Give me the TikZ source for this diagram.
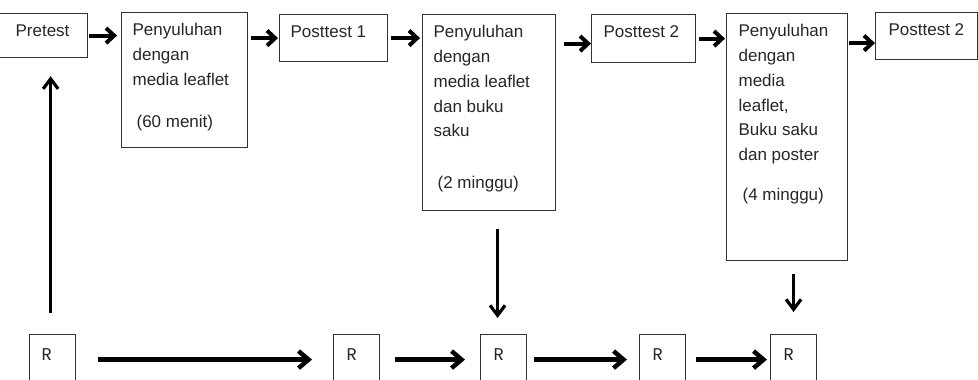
\documentclass[tikz,border=0pt]{standalone}
\usepackage{fontspec}
\setmainfont{Liberation Sans}
\newfontfamily\hurufR{Poppins}
\usetikzlibrary{arrows.meta,calc}
\newcommand{\isikotak}[4][11pt]{\parbox[t][#3][t]{#2}{\raggedright\leftskip=#1\relax #4}}

\begin{document}
\begin{tikzpicture}[x=1pt, y=-1pt,
    kotak/.style={draw=black!80, line width=1.2pt, anchor=north west, inner xsep=0pt, inner ysep=11pt, text=black!85, font=\fontsize{17}{24.7}\selectfont},
    kotakR/.style={kotak, inner ysep=14pt, font=\hurufR\fontsize{17}{20}\selectfont},
    panah/.style={line width=4pt, -{Straight Barb[length=8pt,width=15pt]}},
    panahR/.style={line width=4.5pt, -{Straight Barb[length=10pt,width=17pt]}},
    panahV/.style={line width=3.2pt, -{Straight Barb[length=10pt,width=15pt]}}]
    \clip (0,0) rectangle (978,380);
    % Kotak atas
    \node[kotak] (pre) at (-1,13) {\isikotak[16pt]{88pt}{22pt}{Pretest}};
    \node[kotak] (p1) at (121,12) {\isikotak{126pt}{113pt}{Penyuluhan\\ dengan\\ media leaflet\\[17pt] \hspace*{4pt}(60 menit)}};
    \node[kotak] (post1) at (279,14) {\isikotak{108pt}{25pt}{Posttest 1}};
    \node[kotak] (p2) at (422,14) {\isikotak{133pt}{174pt}{Penyuluhan\\ dengan\\ media leaflet\\ dan buku\\ saku\\[27pt] \hspace*{4pt}(2 minggu)}};
    \node[kotak] (post2) at (591,14) {\isikotak[12pt]{104pt}{26pt}{Posttest 2}};
    \node[kotak] (p3) at (726,13) {\isikotak[12pt]{121pt}{225pt}{Penyuluhan\\ dengan\\ media\\ leaflet,\\ Buku saku\\ dan poster\\[15pt] \hspace*{4pt}(4 minggu)}};
    \node[kotak] (post3) at (875,12) {\isikotak[13pt]{102pt}{25pt}{Posttest 2}};
    % Kotak R
    \node[kotakR] (r1) at (29,334) {\isikotak[12pt]{46pt}{22pt}{R}};
    \node[kotakR] (r2) at (333,334) {\isikotak[13pt]{46pt}{22pt}{R}};
    \node[kotakR] (r3) at (480,334) {\isikotak[13pt]{46pt}{22pt}{R}};
    \node[kotakR] (r4) at (639,334) {\isikotak[13pt]{46pt}{22pt}{R}};
    \node[kotakR] (r5) at (770,334) {\isikotak[13pt]{46pt}{22pt}{R}};
    % Panah atas
    \draw[panah, shorten <=1pt, shorten >=4pt] (pre.east) -- (pre.east -| p1.west);
    \draw[panah, shorten <=3pt, shorten >=1pt] (p1.east |- post1.west) -- (post1.west);
    \draw[panah, shorten <=3pt, shorten >=2pt] (post1.east) -- (post1.east -| p2.west);
    \draw[panah, shorten <=8pt] ($(p2.east |- post2.west)+(0,5)$) -- ($(post2.west)+(0,5)$);
    \draw[panah, shorten <=3pt, shorten >=1pt] (post2.east) -- (post2.east -| p3.west);
    \draw[panah, shorten <=1pt] ($(p3.east |- post3.west)+(0,7)$) -- ($(post3.west)+(0,7)$);
    % Panah tegak
    \draw[panahV, shorten <=21pt, shorten >=18pt] ($(r1.north)+(-2,0)$) -- ($(r1.north |- pre.south)+(-2,0)$);
    \draw[panahV, shorten <=18pt, shorten >=16pt] ($(r3.north |- p2.south)+(-6,0)$) -- ($(r3.north)+(-6,0)$);
    \draw[panahV, shorten <=13pt, shorten >=22pt] (p3.south -| r5.north) -- (r5.north);
    % Panah bawah
    \draw[panahR, shorten <=22pt, shorten >=21pt] (r1.east) -- (r2.west);
    \draw[panahR, shorten <=15pt, shorten >=15pt] (r2.east) -- (r3.west);
    \draw[panahR, shorten <=7pt, shorten >=12pt] (r3.east) -- (r4.west);
    \draw[panahR, shorten <=10pt, shorten >=3pt] (r4.east) -- (r5.west);
\end{tikzpicture}
\end{document}
